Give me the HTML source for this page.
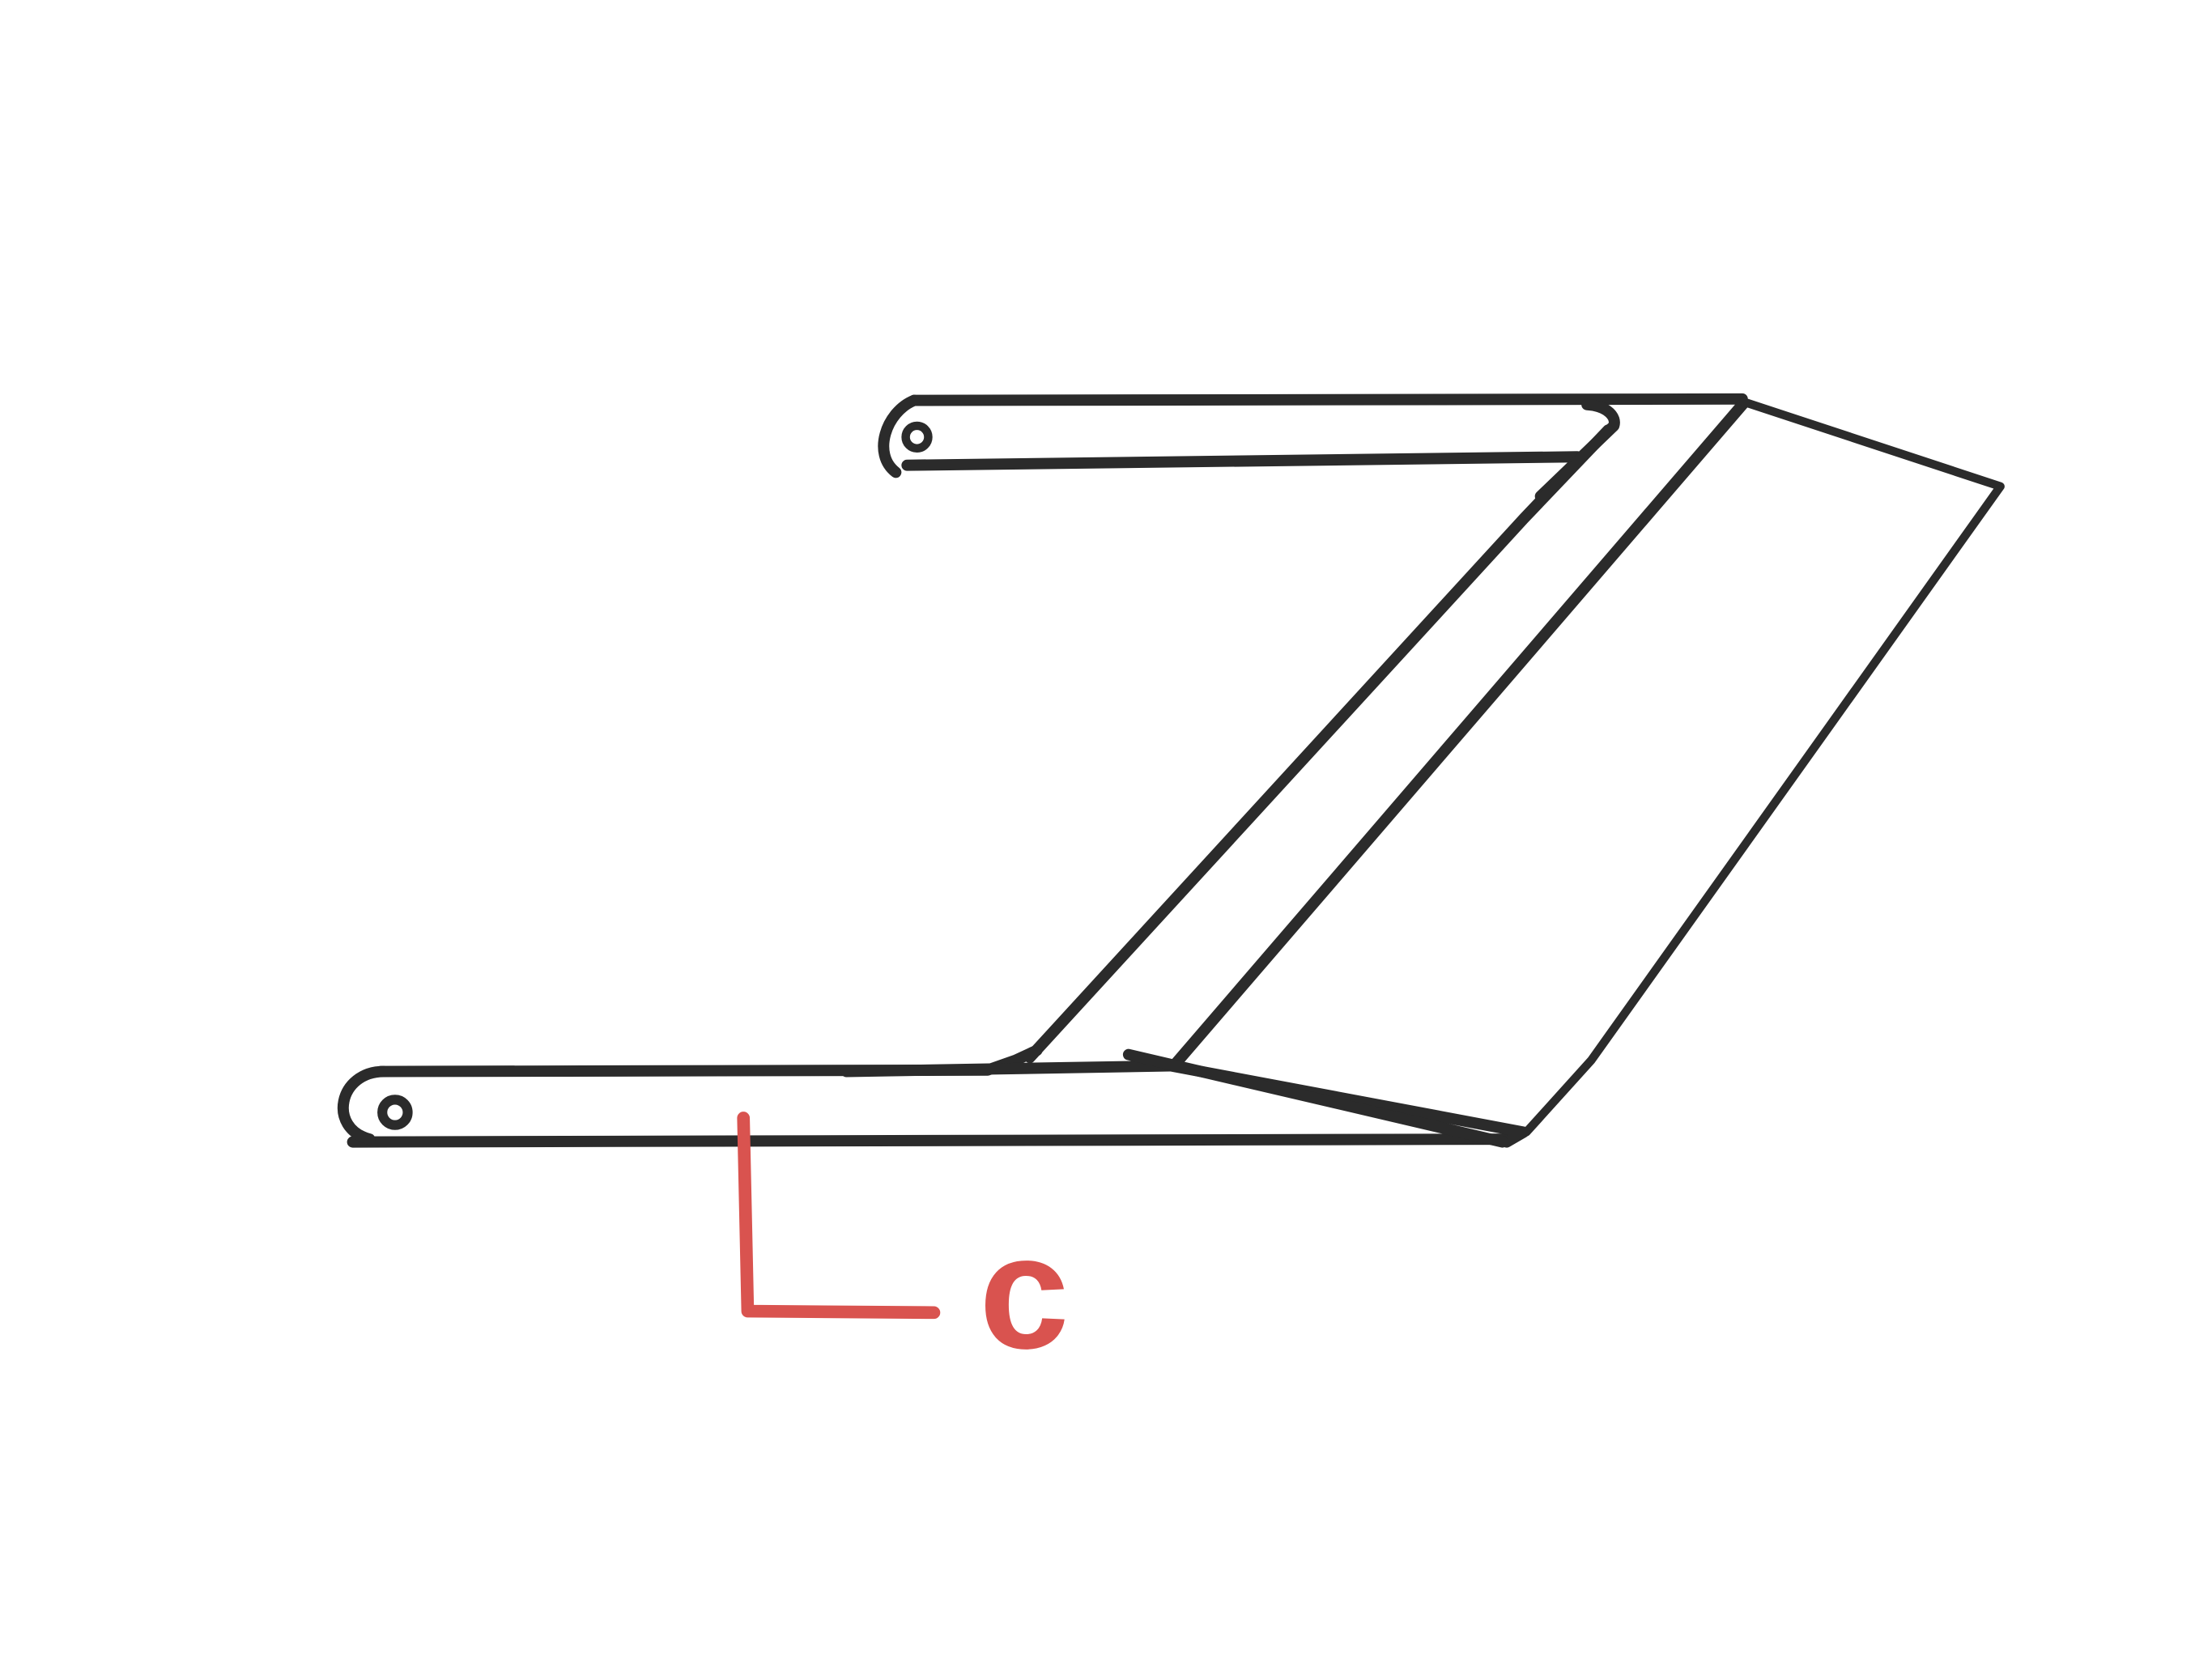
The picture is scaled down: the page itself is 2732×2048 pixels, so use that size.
<!DOCTYPE html>
<html>
<head>
<meta charset="utf-8">
<style>
  html,body{margin:0;padding:0;background:#fff;}
  svg{display:block;}
</style>
</head>
<body>
<svg width="2732" height="2048" viewBox="0 0 1568 1176" preserveAspectRatio="none" xmlns="http://www.w3.org/2000/svg">
  <rect width="1568" height="1176" fill="#fff"/>
  <g fill="none" stroke="#2b2b2b" stroke-width="8" stroke-linecap="round" stroke-linejoin="round">
    <path d="M648 284 L1235 283"/>
    <path d="M643 330 L1118 324"/>
    <path d="M648 284 C628 292 618 322 635 335"/>
    <path d="M1125 287 C1140 288 1146 296 1144 302 L1092 352"/>
  </g>
  <circle cx="650" cy="310" r="8" fill="none" stroke="#2b2b2b" stroke-width="6"/>
  <g fill="none" stroke="#2b2b2b" stroke-width="8" stroke-linecap="round" stroke-linejoin="round">
    <path d="M1140 305 L1080 368 L730 750"/>
    <path d="M1236 286 L832 756"/>
  </g>
  <g fill="none" stroke="#2b2b2b" stroke-width="6" stroke-linecap="round" stroke-linejoin="round">
    <path d="M1236 285 L1418 345 L1128 752 L1082 803"/>
  </g>
  <g fill="none" stroke="#2b2b2b" stroke-width="8" stroke-linecap="round" stroke-linejoin="round">
    <path d="M270 760 L700 759 L720 752 L735 745"/>
    <path d="M600 760 L830 756"/>
    <path d="M250 810 L1068 808"/>
    <path d="M272 760 C240 760 232 800 262 808"/>
    <path d="M830 756 L1080 803 L1068 810"/>
    <path d="M800 748 L1065 810"/>
  </g>
  <circle cx="280" cy="789" r="9" fill="none" stroke="#2b2b2b" stroke-width="7"/>
  <path d="M527 793 L530 930 L662 931" fill="none" stroke="#d9534f" stroke-width="9" stroke-linecap="round" stroke-linejoin="round"/>
  <text x="694" y="956" font-family="Liberation Sans, sans-serif" font-size="115" font-weight="bold" fill="#d9534f">c</text>
</svg>
</body>
</html>
